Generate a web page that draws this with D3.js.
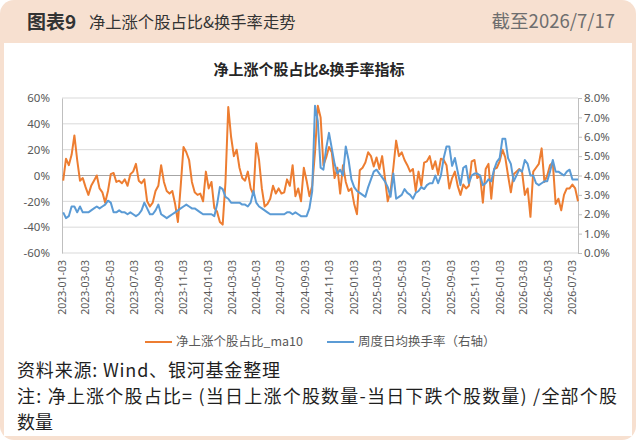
<!DOCTYPE html>
<html>
<head>
<meta charset="utf-8">
<script src="https://cdn.jsdelivr.net/npm/d3@7"></script>
<style>
body{margin:0;background:#fff;}
</style>
</head>
<body>
<div id="chart"></div>
<script>
// weekly points, first one is the friday below
const firstWeek = '2023-01-06';
const netUpMa10 = [
  -4, 13, 8, 16, 31, 12, -4, -2, -9, -15,
  -8, -4, 0, -10, -13, -21, -12, 1, 2, -5,
  -4, -6, -3, -8, 1, 3, 9, -4, -6, -3,
  -20, -24, -21, -12, -8, 8, -5, -12, -14, -12,
  -22, -36, -8, 22, 18, 12, -5, -13, -15, -14,
  -20, 3, -10, -5, -25, -28, -36, -38, -5, 53,
  30, 15, 20, 6, -2, -4, 3, -10, -15, 25,
  12, -10, -24, -22, -18, -8, -14, -10, -14, -13,
  -3, -8, 8, -16, -10, -20, 6, -4, -16, -8,
  18, 54, 45, 8, 14, 22, 18, -2, 6, -14,
  8, -5, -12, -10, -22, -30, 4, 6, 10, 18,
  15, 7, 14, 5, 15, -2, -20, -12, 6, 27,
  15, 18, 12, 8, 3, 5, -12, 3, -8, 10,
  11, 15, 5, 11, 1, 13, 12, 8, -10, -2,
  3, -8, -15, -7, -10, -8, 11, 12, -2, 0,
  -21, 5, 9, -18, 5, 6, 11, 20, 14, 0,
  -13, 1, 3, 5, 3, -15, -10, -32, 3, 6,
  9, 21, -5, 0, 8, 10, -22, -18, -27, -15,
  -10, -10, -7, -10, -20
];
const turnoverRate = [
  2.1, 1.8, 1.9, 2.4, 2.4, 2.1, 2.4, 2.1, 2.1, 2.1,
  2.2, 2.3, 2.4, 2.3, 2.4, 2.5, 2.7, 2.6, 2.1, 2.1,
  2.2, 2.1, 2.1, 2.0, 2.1, 2.0, 1.9, 2.0, 2.2, 2.6,
  2.3, 2.0, 2.0, 2.2, 2.5, 2.0, 1.9, 1.8, 1.9, 2.0,
  2.1, 2.2, 2.3, 2.4, 2.5, 2.4, 2.3, 2.3, 2.2, 2.1,
  2.0, 2.0, 2.0, 2.0, 1.9, 2.5, 3.4, 3.3, 2.9, 2.8,
  2.6, 2.6, 2.6, 2.6, 2.5, 2.5, 2.4, 2.6, 3.2, 2.6,
  2.4, 2.3, 2.2, 2.1, 2.0, 2.0, 2.0, 2.0, 2.0, 2.0,
  2.1, 2.1, 2.0, 2.1, 2.0, 1.9, 1.9, 1.9, 2.3, 3.2,
  7.6, 6.8, 4.4, 4.3, 5.4, 6.2, 5.4, 4.6, 4.1, 4.3,
  4.0, 5.5, 4.8, 3.8, 3.4, 3.2, 3.1, 3.0, 2.9, 3.4,
  3.8, 4.2, 4.3, 4.1, 3.9, 3.7, 3.4, 2.9, 4.1, 2.8,
  2.9, 3.0, 3.3, 3.1, 3.0, 2.8, 3.1, 3.2, 3.4, 3.3,
  3.5, 3.6, 3.6, 4.0, 3.6, 4.0, 4.9, 5.5, 5.5, 4.5,
  4.9, 4.2, 3.5, 4.4, 4.5, 3.6, 4.0, 4.1, 4.1, 4.0,
  3.5, 3.6, 3.8, 3.7, 4.3, 4.7, 4.9, 5.9, 5.9, 4.9,
  4.6, 3.7, 4.0, 4.3, 4.2, 4.8, 4.6, 4.0, 4.0, 3.6,
  3.5, 3.6, 3.7, 3.7, 4.2, 4.8, 4.2, 4.2, 4.1, 4.0,
  4.2, 4.3, 3.8, 3.8, 3.8
];
const xTickLabels = [
  '2023-01-03','2023-03-03','2023-05-03','2023-07-03','2023-09-03','2023-11-03',
  '2024-01-03','2024-03-03','2024-05-03','2024-07-03','2024-09-03','2024-11-03',
  '2025-01-03','2025-03-03','2025-05-03','2025-07-03','2025-09-03','2025-11-03',
  '2026-01-03','2026-03-03','2026-05-03','2026-07-03'
];
const axisStart = '2023-01-03';
const axisEnd = '2026-07-17';
const leftTicks = [-60, -40, -20, 0, 20, 40, 60];
const rightTicks = [0, 1, 2, 3, 4, 5, 6, 7, 8];
const seriesNames = ['净上涨个股占比_ma10', '周度日均换手率（右轴）'];
const colors = ['#ED7D31', '#5B9BD5'];

const W = 636, H = 440;
const cjk = '"Noto Sans CJK SC", "Noto Sans", sans-serif';
const latin = '"Noto Sans", "Noto Sans CJK SC", sans-serif';
const parse = d3.timeParse('%Y-%m-%d');

function draw_chart() {
    let svg = d3.select('#chart').append('svg')
        .attr('width', W)
        .attr('height', H);

    draw_frame(svg);

    let plot = {left: 62, right: 578, top: 98, bottom: 253};
    let x = d3.scaleTime()
        .domain([parse(axisStart), parse(axisEnd)])
        .range([plot.left, plot.right]);
    let yL = d3.scaleLinear().domain([-60, 60]).range([plot.bottom, plot.top]);
    let yR = d3.scaleLinear().domain([0, 8]).range([plot.bottom, plot.top]);

    let first = parse(firstWeek);
    let dates = netUpMa10.map((d, i) => d3.timeDay.offset(first, 7 * i));

    // grid lines
    svg.append('g')
        .selectAll('line')
        .data(leftTicks)
        .enter().append('line')
        .attr('x1', plot.left).attr('x2', plot.right)
        .attr('y1', d => yL(d)).attr('y2', d => yL(d))
        .attr('stroke', '#D9D9D9')
        .attr('stroke-width', 1);

    // left axis
    let left = svg.append('g')
        .attr('transform', `translate(${plot.left},0)`)
        .call(d3.axisLeft(yL).tickValues(leftTicks).tickSize(0).tickPadding(12).tickFormat(d => d + '%'));
    left.select('.domain').attr('stroke', '#BFBFBF');
    left.selectAll('text')
        .attr('font-family', latin)
        .attr('font-size', 11.5)
        .attr('fill', '#595959');

    // right axis
    let right = svg.append('g')
        .attr('transform', `translate(${plot.right},0)`)
        .call(d3.axisRight(yR).tickValues(rightTicks).tickSize(4).tickPadding(2).tickFormat(d => d.toFixed(1) + '%'));
    right.select('.domain').attr('stroke', '#BFBFBF');
    right.selectAll('line').attr('stroke', '#BFBFBF');
    right.selectAll('text')
        .attr('font-family', latin)
        .attr('font-size', 11.5)
        .attr('fill', '#595959');

    // zero line acts as category axis
    svg.append('line')
        .attr('x1', plot.left).attr('x2', plot.right)
        .attr('y1', yL(0)).attr('y2', yL(0))
        .attr('stroke', '#A6A6A6')
        .attr('stroke-width', 1);

    // x labels, rotated
    svg.append('g')
        .selectAll('text')
        .data(xTickLabels)
        .enter().append('text')
        .attr('transform', d => `translate(${x(parse(d))},${plot.bottom + 7}) rotate(-90)`)
        .attr('dy', '0.35em')
        .attr('text-anchor', 'end')
        .attr('font-family', latin)
        .attr('font-size', 10.5)
        .attr('fill', '#595959')
        .text(d => d);

    let lineL = d3.line()
        .x((d, i) => x(dates[i]))
        .y(d => yL(d));
    let lineR = d3.line()
        .x((d, i) => x(dates[i]))
        .y(d => yR(d));

    svg.append('path')
        .datum(netUpMa10)
        .attr('d', lineL)
        .attr('fill', 'none')
        .attr('stroke', colors[0])
        .attr('stroke-width', 2)
        .attr('stroke-linejoin', 'round');

    svg.append('path')
        .datum(turnoverRate)
        .attr('d', lineR)
        .attr('fill', 'none')
        .attr('stroke', colors[1])
        .attr('stroke-width', 2)
        .attr('stroke-linejoin', 'round');

    // chart title
    svg.append('text')
        .attr('x', 309).attr('y', 75)
        .attr('text-anchor', 'middle')
        .attr('font-family', cjk)
        .attr('font-size', 15)
        .attr('font-weight', 'bold')
        .attr('fill', '#262626')
        .text('净上涨个股占比&换手率指标');

    draw_legend(svg);
    draw_notes(svg);
}

function draw_frame(svg) {
    svg.append('rect')
        .attr('width', W).attr('height', H)
        .attr('rx', 14)
        .attr('fill', '#F7E0D0');
    svg.append('rect')
        .attr('x', 4).attr('y', 43)
        .attr('width', W - 8).attr('height', 393)
        .attr('fill', '#FFFFFF');

    svg.append('text')
        .attr('x', 27).attr('y', 29)
        .attr('font-family', cjk)
        .attr('font-size', 19)
        .attr('font-weight', 'bold')
        .attr('fill', '#333333')
        .text('图表9');
    svg.append('text')
        .attr('x', 89).attr('y', 28)
        .attr('font-family', cjk)
        .attr('font-size', 16.3)
        .attr('fill', '#333333')
        .text('净上涨个股占比&换手率走势');

    svg.append('text')
        .attr('x', 615).attr('y', 28)
        .attr('text-anchor', 'end')
        .attr('font-family', cjk)
        .attr('font-size', 18.5)
        .attr('fill', '#6E6E6E')
        .text('截至2026/7/17');
}

function draw_legend(svg) {
    let lx = [145, 327];
    let g = svg.append('g')
        .selectAll('g')
        .data(seriesNames)
        .enter().append('g')
        .attr('transform', (d, i) => `translate(${lx[i]},342)`);
    g.append('line')
        .attr('x1', 0).attr('x2', 27)
        .attr('stroke', (d, i) => colors[i])
        .attr('stroke-width', 2);
    g.append('text')
        .attr('x', 31)
        .attr('dy', '0.35em')
        .attr('font-family', cjk)
        .attr('font-size', 12.5)
        .attr('fill', '#595959')
        .text(d => d);
}

function draw_notes(svg) {
    let lines = [
        '资料来源: Wind、银河基金整理',
        '注: 净上涨个股占比= (当日上涨个股数量-当日下跌个股数量) /全部个股',
        '数量'
    ];
    // widths of the first two lines as laid out in the source
    let widths = [263, 600, null];
    svg.append('g')
        .selectAll('text')
        .data(lines)
        .enter().append('text')
        .attr('x', 17)
        .attr('y', (d, i) => 377 + i * 26)
        .attr('font-family', cjk)
        .attr('font-size', 18)
        .attr('fill', '#1F1F1F')
        .each(function(d, i) {
            if (widths[i]) {
                d3.select(this)
                    .attr('textLength', widths[i])
                    .attr('lengthAdjust', 'spacing');
            }
        })
        .text(d => d);
}

draw_chart();
</script>
</body>
</html>
